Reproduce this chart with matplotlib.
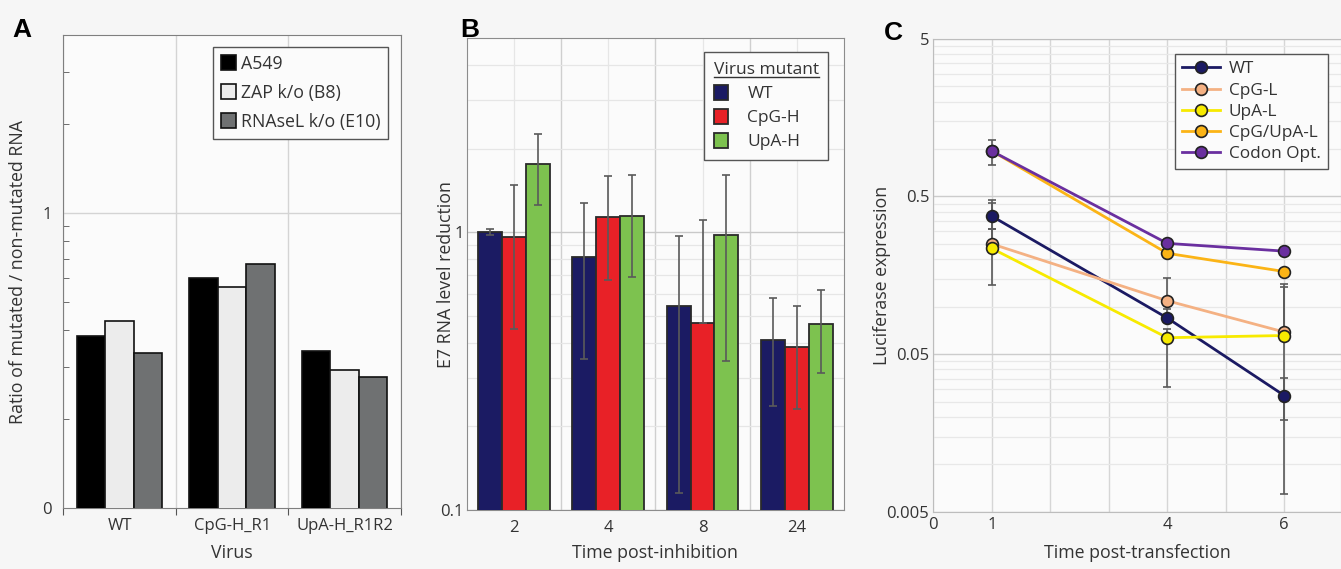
import numpy as np
import matplotlib
matplotlib.use('Agg')
import matplotlib.pyplot as plt
from matplotlib.ticker import FixedLocator, FixedFormatter, NullFormatter
from matplotlib.lines import Line2D

plt.rcParams['font.family'] = ['Open Sans', 'DejaVu Sans']
plt.rcParams['text.color'] = '#333333'
plt.rcParams['axes.labelcolor'] = '#333333'
plt.rcParams['xtick.color'] = '#555555'
plt.rcParams['ytick.color'] = '#555555'
plt.rcParams['xtick.labelcolor'] = '#333333'
plt.rcParams['ytick.labelcolor'] = '#333333'

# Panel A - ratio of mutated / non-mutated RNA per cell line
a_groups = ['WT', 'CpG-H_R1', 'UpA-H_R1R2']
a_series = ['A549', 'ZAP k/o (B8)', 'RNAseL k/o (E10)']
a_a549 = [0.384, 0.602, 0.341]
a_zap = [0.429, 0.563, 0.294]
a_rnasel = [0.336, 0.673, 0.279]

# Panel B - E7 RNA level reduction (mean, lower and upper error bound)
b_times = ['2', '4', '8', '24']
b_series = ['WT', 'CpG-H', 'UpA-H']
b_wt = [1.0, 0.815, 0.544, 0.411]
b_wt_lo = [0.976, 0.351, 0.115, 0.237]
b_wt_hi = [1.03, 1.28, 0.97, 0.582]
b_cpg = [0.965, 1.135, 0.471, 0.388]
b_cpg_lo = [0.449, 0.672, 0.471, 0.231]
b_cpg_hi = [1.48, 1.60, 1.104, 0.543]
b_upa = [1.76, 1.15, 0.976, 0.466]
b_upa_lo = [1.25, 0.689, 0.343, 0.311]
b_upa_hi = [2.27, 1.61, 1.61, 0.622]

# Panel C - luciferase expression over time
c_days = [1, 4, 6]
c_series = ['WT', 'CpG-L', 'UpA-L', 'CpG/UpA-L', 'Codon Opt.']
c_wt = [0.375, 0.0847, 0.0273]
c_wt_lo = [0.313, 0.0847, 0.0191]
c_wt_hi = [0.452, 0.097, 0.0353]
c_cpgl = [0.25, 0.109, 0.069]
c_cpgl_lo = [0.25, 0.109, 0.0065]
c_cpgl_hi = [0.472, 0.153, 0.139]
c_upal = [0.234, 0.0635, 0.0656]
c_upal_lo = [0.137, 0.0307, 0.0656]
c_upal_hi = [0.31, 0.0725, 0.133]
c_both = [0.972, 0.218, 0.167]
c_both_lo = [0.79, 0.218, 0.167]
c_both_hi = [0.972, 0.218, 0.167]
c_opt = [0.97, 0.252, 0.225]
c_opt_lo = [0.97, 0.252, 0.225]
c_opt_hi = [1.14, 0.252, 0.225]

TICK_FS = 12
LABEL_FS = 12.8

BG = '#f6f6f6'
fig = plt.figure(figsize=(13.41, 5.69), dpi=100, facecolor=BG)

axA = fig.add_axes([0.0472, 0.1067, 0.2518, 0.8318])
axB = fig.add_axes([0.3480, 0.1037, 0.2814, 0.8290])
axC = fig.add_axes([0.6960, 0.1007, 0.3040, 0.8310])

for ax in (axA, axB, axC):
    ax.set_facecolor('#fbfbfb')

bw = 0.253

# ---------- A ----------
x = np.arange(len(a_groups))
colsA = ['#000000', '#ececec', '#6f7172']
for j, (vals, col, lab) in enumerate(zip([a_a549, a_zap, a_rnasel], colsA, a_series)):
    axA.bar(x + (j - 1) * bw, vals, width=bw, color=col, edgecolor='#111111',
            linewidth=1.2, label=lab, zorder=3)
axA.set_yscale('log')
axA.set_ylim(0.1, 4)
axA.set_xlim(-0.5, 2.5)
axA.yaxis.set_major_locator(FixedLocator([0.1, 1]))
axA.yaxis.set_major_formatter(FixedFormatter(['0', '1']))
axA.yaxis.set_minor_locator(FixedLocator([0.2, 0.3, 0.4, 0.5, 0.6, 0.7, 0.8, 0.9, 2, 3]))
axA.yaxis.set_minor_formatter(NullFormatter())
axA.tick_params(axis='y', which='both', direction='in', length=4, labelsize=TICK_FS, pad=8)
axA.tick_params(axis='y', which='major', length=0)
axA.set_xticks([-0.5, 0.5, 1.5, 2.5])
axA.set_xticklabels(['', '', '', ''])
axA.set_xticks(x, minor=True)
axA.set_xticklabels(a_groups, minor=True)
axA.tick_params(axis='x', which='minor', length=0, labelsize=TICK_FS, pad=7)
axA.tick_params(axis='x', which='major', length=5, direction='out')
axA.grid(True, axis='x', which='major', color='#d4d4d4', lw=1, zorder=0)
axA.axhline(1, color='#d4d4d4', lw=1, zorder=0)
for s in axA.spines.values():
    s.set_color('#7f7f7f')
axA.set_xlabel('Virus', fontsize=LABEL_FS)
axA.set_ylabel('Ratio of mutated / non-mutated RNA', fontsize=LABEL_FS)
axA.xaxis.set_label_coords(0.5, -0.094)
axA.yaxis.set_label_coords(-0.134, 0.5)
legA = axA.legend(loc='upper right', bbox_to_anchor=(0.962, 0.975), fontsize=12.8,
                  fancybox=False, edgecolor='#555555', framealpha=1, facecolor='#fbfbfb',
                  handlelength=0.85, handleheight=0.95, handletextpad=0.25,
                  labelspacing=0.62, borderpad=0.45, borderaxespad=0)
legA.get_frame().set_linewidth(1.0)

# ---------- B ----------
xb = np.arange(len(b_times))
colsB = ['#1b1b63', '#e82127', '#7dc24f']
b_vals = [b_wt, b_cpg, b_upa]
b_los = [b_wt_lo, b_cpg_lo, b_upa_lo]
b_his = [b_wt_hi, b_cpg_hi, b_upa_hi]
for j, (vals, lo, hi, col, lab) in enumerate(zip(b_vals, b_los, b_his, colsB, b_series)):
    pos = xb + (j - 1) * bw
    axB.bar(pos, vals, width=bw, color=col, edgecolor='#2a2a2a', linewidth=1.3,
            label=lab, zorder=3)
    v = np.array(vals)
    yerr = [v - np.array(lo), np.array(hi) - v]
    axB.errorbar(pos, v, yerr=yerr, fmt='none', ecolor='#5a5a5a', elinewidth=1.2,
                 capsize=3, capthick=1.2, zorder=4)
axB.set_yscale('log')
axB.set_ylim(0.1, 5)
axB.set_xlim(-0.5, 3.5)
axB.yaxis.set_major_locator(FixedLocator([0.1, 1]))
axB.yaxis.set_major_formatter(FixedFormatter(['0.1', '1']))
axB.yaxis.set_minor_locator(FixedLocator([0.2, 0.3, 0.4, 0.5, 0.6, 0.7, 0.8, 0.9, 2, 3, 4]))
axB.yaxis.set_minor_formatter(NullFormatter())
axB.tick_params(axis='y', which='both', length=0, labelsize=TICK_FS, pad=2)
axB.set_xticks(xb)
axB.set_xticklabels(b_times)
axB.set_xticks([0.5, 1.5, 2.5], minor=True)
axB.tick_params(axis='x', which='both', length=0, labelsize=TICK_FS, pad=7)
axB.grid(True, axis='y', which='major', color='#c9c9c9', lw=1, zorder=0)
axB.grid(True, axis='y', which='minor', color='#e6e6e6', lw=0.9, zorder=0)
axB.grid(True, axis='x', which='minor', color='#cfcfcf', lw=1, zorder=0)
axB.grid(True, axis='x', which='major', color='#e6e6e6', lw=0.9, zorder=0)
for s in axB.spines.values():
    s.set_color('#8c8c8c')
axB.set_xlabel('Time post-inhibition', fontsize=LABEL_FS)
axB.set_ylabel('E7 RNA level reduction', fontsize=LABEL_FS)
axB.xaxis.set_label_coords(0.5, -0.091)
axB.yaxis.set_label_coords(-0.055, 0.5)
legB = axB.legend(loc='upper right', bbox_to_anchor=(0.958, 0.970), fontsize=12.5,
                  title='Virus mutant', title_fontsize=12.5,
                  fancybox=False, edgecolor='#555555', framealpha=1, facecolor='#fbfbfb',
                  handlelength=0.85, handleheight=0.95, handletextpad=1.1,
                  labelspacing=0.38, borderpad=0.55, borderaxespad=0)
legB.get_frame().set_linewidth(1.0)
legB._legend_box.align = 'left'

# ---------- C ----------
colsC = ['#1b1a63', '#f4b183', '#f7ea00', '#fbb416', '#6a2f9f']
c_vals = [c_wt, c_cpgl, c_upal, c_both, c_opt]
c_los = [c_wt_lo, c_cpgl_lo, c_upal_lo, c_both_lo, c_opt_lo]
c_his = [c_wt_hi, c_cpgl_hi, c_upal_hi, c_both_hi, c_opt_hi]
for vals, lo, hi, col, lab in zip(c_vals, c_los, c_his, colsC, c_series):
    v = np.array(vals)
    yerr = [v - np.array(lo), np.array(hi) - v]
    axC.errorbar(c_days, v, yerr=yerr, fmt='none', ecolor='#5a5a5a', elinewidth=1.2,
                 capsize=3, capthick=1.2, zorder=3)
    axC.plot(c_days, v, color=col, lw=2, marker='o', ms=8.5, mfc=col,
             mec='#222222', mew=1.2, label=lab, zorder=4)
axC.set_yscale('log')
axC.set_ylim(0.005, 5)
axC.set_xlim(0, 6.97)
axC.yaxis.set_major_locator(FixedLocator([0.005, 0.05, 0.5, 5]))
axC.yaxis.set_major_formatter(FixedFormatter(['0.005', '0.05', '0.5', '5']))
c_minor = [0.005 * k * 10 ** n for n in range(3) for k in range(2, 10)]
axC.yaxis.set_minor_locator(FixedLocator(c_minor))
axC.yaxis.set_minor_formatter(NullFormatter())
axC.tick_params(axis='y', which='both', length=0, labelsize=TICK_FS, pad=3)
axC.set_xticks([0, 1, 4, 6])
axC.set_xticklabels(['0', '1', '4', '6'])
axC.set_xticks([2, 3, 5], minor=True)
axC.tick_params(axis='x', which='both', length=0, labelsize=TICK_FS, pad=4)
axC.grid(True, axis='x', which='both', color='#d6d6d6', lw=1, zorder=0)
axC.grid(True, axis='y', which='major', color='#cccccc', lw=1, zorder=0)
axC.grid(True, axis='y', which='minor', color='#e8e8e8', lw=0.9, zorder=0)
for s in axC.spines.values():
    s.set_color('#bdbdbd')
axC.set_xlabel('Time post-transfection', fontsize=LABEL_FS)
axC.set_ylabel('Luciferase expression', fontsize=LABEL_FS)
axC.xaxis.set_label_coords(0.5, -0.087)
axC.yaxis.set_label_coords(-0.127, 0.5)
legC = axC.legend(loc='upper right', bbox_to_anchor=(0.967, 0.967), fontsize=12.4,
                  fancybox=False, edgecolor='#555555', framealpha=1, facecolor='#fbfbfb',
                  handlelength=2.2, handletextpad=0.5, labelspacing=0.3,
                  borderpad=0.4, borderaxespad=0)
legC.get_frame().set_linewidth(1.0)

for ax in (axA, axB, axC):
    ax.xaxis.label.set_va('center')
    ax.yaxis.label.set_va('center')

# panel letters
for lab, xx, yy in [('A', 0.009, 0.935), ('B', 0.343, 0.935), ('C', 0.659, 0.930)]:
    fig.text(xx, yy, lab, fontsize=19, fontweight='bold', family='Liberation Sans',
             color='#000000')

# underline the legend title in B
fig.canvas.draw()
tb = legB.get_title().get_window_extent()
inv = fig.transFigure.inverted()
(x0, y0), (x1, y1) = inv.transform([(tb.x0, tb.y0 + 1), (tb.x1, tb.y0 + 1)])
fig.add_artist(Line2D([x0, x1], [y0, y1], color='#333333', lw=1))

fig.savefig('out.png', dpi=100, facecolor=BG)
